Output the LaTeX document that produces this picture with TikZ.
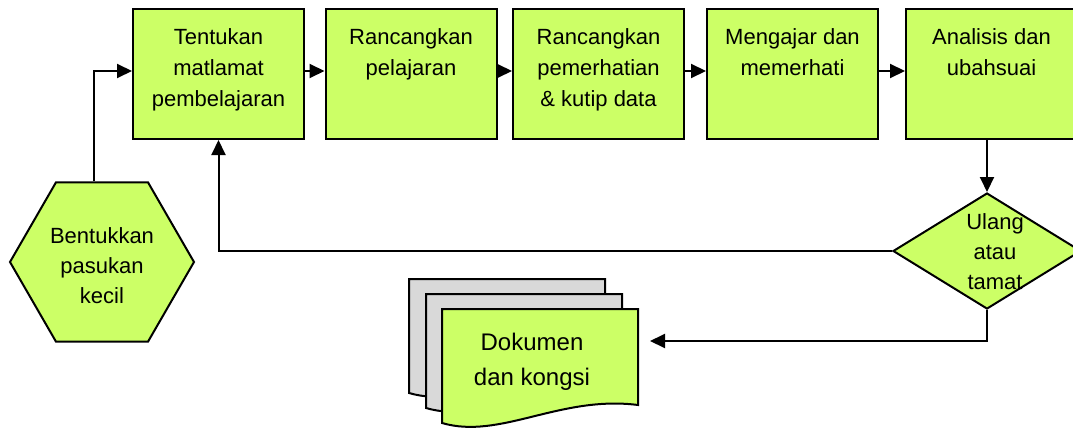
\documentclass[tikz,border=0pt]{standalone}
\usepackage{fontspec}
\setmainfont{Liberation Sans}
\usepackage{tikz}
\usetikzlibrary{shapes.geometric}
\usetikzlibrary{arrows.meta}
\usetikzlibrary{positioning}

\definecolor{stepgreen}{RGB}{204,255,102}
\definecolor{pagegray}{RGB}{217,217,217}

\newcommand{\steptext}[1]{\parbox[t][116pt][t]{160pt}{\centering\rule{0pt}{29pt}#1}}

\begin{document}
\begin{tikzpicture}[x=1pt, y=-1pt,
        stepbox/.style={rectangle, draw=black, fill=stepgreen, line width=2pt, inner xsep=5.5pt, inner ysep=7pt, font=\fontsize{22}{31}\selectfont},
        hexa/.style={regular polygon, regular polygon sides=6, draw=black, fill=stepgreen, line width=2pt, minimum size=184pt, inner sep=0pt, align=center, font=\fontsize{22}{30}\selectfont},
        decide/.style={diamond, draw=black, fill=stepgreen, line width=2pt, minimum width=188pt, minimum height=116pt, inner sep=0pt},
        label/.style={align=center, font=\fontsize{22}{30}\selectfont},
        page/.style={draw=black, line width=2pt},
        flow/.style={line width=2pt, -{Triangle[length=15pt, width=14pt]}}
      ]
        \useasboundingbox (0,0) rectangle (1073,428);

        % steps along the top
        \node[stepbox]  (box1)  at (218.5, 74)    {\steptext{Tentukan\\matlamat\\pembelajaran}};
        \node[stepbox]  (box2)  at (411, 74)      {\steptext{Rancangkan\\pelajaran}};
        \node[stepbox]  (box3)  at (598.5, 74)    {\steptext{Rancangkan\\pemerhatian\\\& kutip data}};
        \node[stepbox]  (box4)  at (792.5, 74)    {\steptext{Mengajar dan\\memerhati}};
        \node[stepbox]  (box5)  at (991.5, 74)    {\steptext{Analisis dan\\ubahsuai}};

        \node[hexa]     (hex)   at (102, 262)     {\\[-6pt]Bentukkan\\pasukan\\kecil};
        \node[decide]   (decide) at (987, 251)    {};
        \node[label]    (ask)   at (995, 252)     {Ulang\\atau\\tamat};

        % document stack
        \foreach \dx/\dy/\col in {-33/-30/pagegray, -16/-15/pagegray, 0/0/stepgreen} {
          \draw[page, fill=\col, shift={(\dx,\dy)}]
            (442,309) -- (638,309) -- (638,405)
            .. controls (560,395) and (500,440) .. (442,423) -- cycle;
        }
        \node[align=center, font=\fontsize{24}{35}\selectfont] (doc) at (532, 362) {Dokumen\\dan kongsi};

        \coordinate (row)   at (0, 71);
        \coordinate (docin) at (650, 341);

        \draw[flow]  ([xshift=-8pt]hex.north) |- (box1.west |- row);
        \foreach \a/\b in {box1/box2, box2/box3, box3/box4, box4/box5}
          \draw[flow]  (\a.east |- row) -- (\b.west |- row);
        \draw[flow]  (box5.south -| decide.north) -- (decide.north);
        \draw[flow]  (decide.west) -| (box1.south);
        \draw[flow]  (decide.south) |- (docin);
      \end{tikzpicture}
\end{document}
